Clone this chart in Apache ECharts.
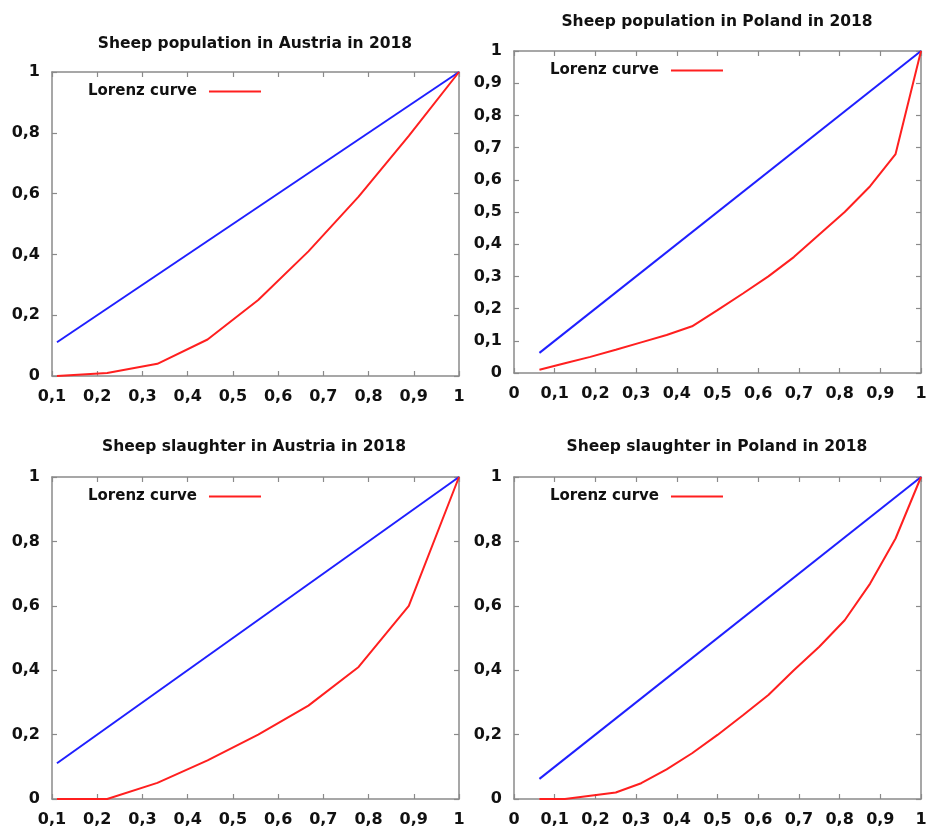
<!DOCTYPE html>
<html>
<head>
<meta charset="utf-8">
<script src="https://cdn.jsdelivr.net/npm/echarts@6/dist/echarts.min.js"></script>
<style>
html,body{margin:0;padding:0;background:#fff;}
#chart{width:930px;height:831px;}
</style>
</head>
<body>
<div id="chart"></div>
<script>
// ---- data ----
const titles = [
  'Sheep population in Austria in 2018',
  'Sheep population in Poland in 2018',
  'Sheep slaughter in Austria in 2018',
  'Sheep slaughter in Poland in 2018'
];
const legendLabel = 'Lorenz curve';

// cumulative share of regions (x)
const xAustria = [0.111, 0.222, 0.333, 0.444, 0.556, 0.667, 0.778, 0.889, 1];
const xPoland = [0.0625, 0.125, 0.1875, 0.25, 0.3125, 0.375, 0.4375, 0.5, 0.5625, 0.625, 0.6875, 0.75, 0.8125, 0.875, 0.9375, 1];

// Lorenz curves (y)
const popAustria = [0, 0.01, 0.04, 0.12, 0.25, 0.41, 0.59, 0.79, 1];
const popPoland = [0.01, 0.03, 0.05, 0.072, 0.095, 0.118, 0.145, 0.195, 0.247, 0.30, 0.36, 0.43, 0.50, 0.58, 0.68, 1];
const slaAustria = [0, 0, 0.05, 0.12, 0.20, 0.29, 0.41, 0.60, 1];
const slaPoland = [0, 0, 0.01, 0.02, 0.049, 0.092, 0.142, 0.199, 0.26, 0.323, 0.40, 0.473, 0.555, 0.669, 0.809, 1];

// equality lines (start and end)
const eqAustria = [[0.111, 0.111], [1, 1]];
const eqPoland = [[0.0625, 0.0625], [1, 1]];

// axis settings
const xMinAustria = 0.1, xMinPoland = 0;
const yIntervalPopPoland = 0.1, yIntervalDefault = 0.2;

// ---- layout ----
const panels = [
  {x: xAustria, y: popAustria, eq: eqAustria, xmin: xMinAustria, yint: yIntervalDefault,
   grid: {left: 52, top: 72, width: 407, height: 304}, title: [255, 36], legend: [88, 84]},
  {x: xPoland, y: popPoland, eq: eqPoland, xmin: xMinPoland, yint: yIntervalPopPoland,
   grid: {left: 514, top: 51, width: 407, height: 322}, title: [717, 14], legend: [550, 63]},
  {x: xAustria, y: slaAustria, eq: eqAustria, xmin: xMinAustria, yint: yIntervalDefault,
   grid: {left: 52, top: 477, width: 407, height: 322}, title: [254, 439], legend: [88, 489]},
  {x: xPoland, y: slaPoland, eq: eqPoland, xmin: xMinPoland, yint: yIntervalDefault,
   grid: {left: 514, top: 477, width: 407, height: 322}, title: [717, 439], legend: [550, 489]}
];

const FONT = 'DejaVu Sans';
const frame = '#8a8a8a';
const fmt = v => String(+(+v).toFixed(2)).replace('.', ',');

const option = {
  animation: false,
  backgroundColor: '#fff',
  title: [], legend: [], grid: [], xAxis: [], yAxis: [], series: []
};

panels.forEach((p, i) => {
  option.title.push({
    text: titles[i], left: p.title[0], top: p.title[1], textAlign: 'center', padding: 0,
    textStyle: {fontFamily: FONT, fontWeight: 'bold', fontSize: 15.5, color: '#111'}
  });
  option.legend.push({
    data: [legendLabel], left: p.legend[0], top: p.legend[1], align: 'right', padding: 0,
    icon: 'rect', itemWidth: 52, itemHeight: 2, selectedMode: false,
    textStyle: {fontFamily: FONT, fontWeight: 'bold', fontSize: 15, color: '#111', padding: [0, 7, 0, 0]}
  });
  option.grid.push(Object.assign({containLabel: false}, p.grid));
  const axLine = {show: true, onZero: false, lineStyle: {color: frame, width: 1.5}};
  const tick = {show: true, inside: true, length: 5, lineStyle: {color: frame, width: 1.2}};
  const lbl = {fontFamily: FONT, fontWeight: 'bold', fontSize: 16, color: '#111', formatter: fmt};
  option.xAxis.push({
    type: 'value', gridIndex: i, min: p.xmin, max: 1, interval: 0.1, position: 'bottom',
    axisLine: axLine, axisTick: tick, splitLine: {show: false},
    axisLabel: Object.assign({margin: 13}, lbl)
  });
  option.xAxis.push({
    type: 'value', gridIndex: i, min: p.xmin, max: 1, interval: 0.1, position: 'top',
    axisLine: axLine, axisTick: tick, splitLine: {show: false}, axisLabel: {show: false}
  });
  option.yAxis.push({
    type: 'value', gridIndex: i, min: 0, max: 1, interval: p.yint, position: 'left',
    axisLine: axLine, axisTick: tick, splitLine: {show: false},
    axisLabel: Object.assign({margin: 12}, lbl)
  });
  option.yAxis.push({
    type: 'value', gridIndex: i, min: 0, max: 1, interval: p.yint, position: 'right',
    axisLine: axLine, axisTick: tick, splitLine: {show: false}, axisLabel: {show: false}
  });
  option.series.push({
    type: 'line', name: 'equality' + i, xAxisIndex: 2 * i, yAxisIndex: 2 * i,
    data: p.eq, showSymbol: false, symbol: 'none',
    lineStyle: {color: '#1f1fff', width: 2}, itemStyle: {color: '#1f1fff'}
  });
  option.series.push({
    type: 'line', name: legendLabel, xAxisIndex: 2 * i, yAxisIndex: 2 * i,
    data: p.x.map((xv, k) => [xv, p.y[k]]), showSymbol: false, symbol: 'none',
    lineStyle: {color: '#ff1f1f', width: 2}, itemStyle: {color: '#ff1f1f'}
  });
});

const chart = echarts.init(document.getElementById('chart'), null, {renderer: 'canvas'});
chart.setOption(option);
</script>
</body>
</html>
